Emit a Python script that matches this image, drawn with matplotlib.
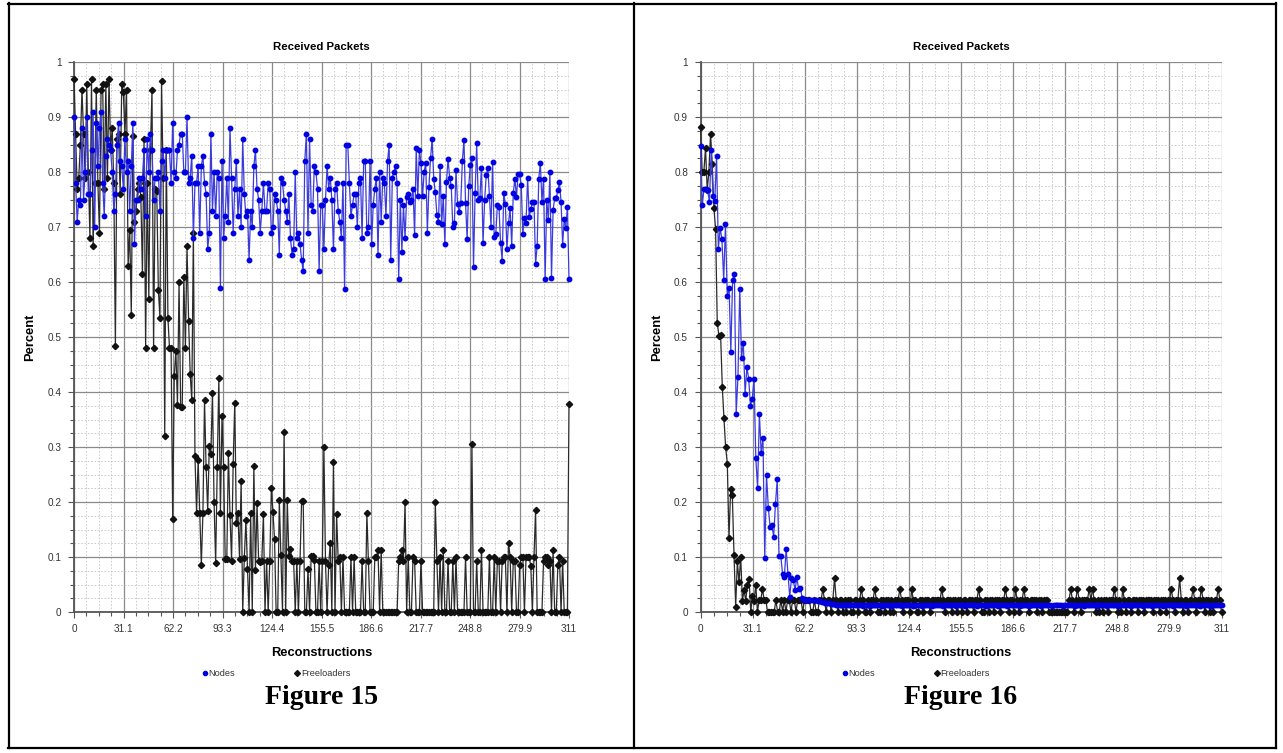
import matplotlib
matplotlib.use('Agg')
import matplotlib.pyplot as plt
import numpy as np
from matplotlib.lines import Line2D
from matplotlib.ticker import FixedLocator, MultipleLocator

plt.rcParams['font.family'] = ['Liberation Sans', 'DejaVu Sans']

# ---- data: Figure 15 ----
nodes_fig15 = [
    0.90, 0.78, 0.71, 0.75, 0.74, 0.88, 0.75, 0.80, 0.90, 0.76, 0.76, 0.84, 0.91, 0.70, 0.89, 0.81, 0.88, 0.91, 0.78, 0.72,
    0.83, 0.86, 0.85, 0.84, 0.80, 0.73, 0.76, 0.85, 0.89, 0.82, 0.81, 0.77, 0.86, 0.80, 0.82, 0.73, 0.81, 0.89, 0.67, 0.75,
    0.75, 0.79, 0.77, 0.79, 0.84, 0.72, 0.86, 0.80, 0.87, 0.84, 0.75, 0.79, 0.79, 0.80, 0.73, 0.82, 0.84, 0.79, 0.84, 0.84,
    0.84, 0.78, 0.89, 0.80, 0.79, 0.84, 0.85, 0.87, 0.87, 0.80, 0.80, 0.90, 0.78, 0.79, 0.83, 0.68, 0.78, 0.78, 0.81, 0.69,
    0.81, 0.83, 0.78, 0.76, 0.66, 0.69, 0.87, 0.73, 0.80, 0.72, 0.80, 0.79, 0.59, 0.82, 0.68, 0.72, 0.79, 0.71, 0.88, 0.79,
    0.69, 0.77, 0.82, 0.72, 0.77, 0.70, 0.86, 0.76, 0.72, 0.73, 0.64, 0.73, 0.70, 0.81, 0.84, 0.77, 0.75, 0.69, 0.73, 0.78,
    0.73, 0.73, 0.78, 0.77, 0.69, 0.70, 0.76, 0.75, 0.73, 0.65, 0.79, 0.78, 0.75, 0.73, 0.71, 0.76, 0.68, 0.65, 0.66, 0.80,
    0.68, 0.69, 0.67, 0.64, 0.62, 0.82, 0.87, 0.69, 0.86, 0.74, 0.73, 0.81, 0.80, 0.77, 0.62,
    0.74, 0.74, 0.66, 0.75, 0.81, 0.77, 0.79, 0.75, 0.66, 0.77,
    0.78, 0.73, 0.71, 0.68, 0.78, 0.587, 0.85, 0.85, 0.78, 0.72,
    0.74, 0.76, 0.76, 0.70, 0.78, 0.79, 0.68, 0.82, 0.82, 0.69,
    0.70, 0.82, 0.67, 0.74, 0.77, 0.79, 0.65, 0.80, 0.71, 0.79,
    0.78, 0.72, 0.82, 0.85, 0.64, 0.79, 0.80, 0.81, 0.78, 0.605,
    0.75, 0.655, 0.74, 0.68, 0.755, 0.76, 0.745, 0.75, 0.77, 0.685,
    0.843, 0.756, 0.84, 0.816, 0.756, 0.80, 0.817, 0.69, 0.773, 0.825,
    0.86, 0.788, 0.763, 0.722, 0.71, 0.81, 0.705, 0.756, 0.67, 0.781,
    0.824, 0.79, 0.775, 0.70, 0.708, 0.803, 0.741, 0.728, 0.743, 0.82,
    0.858, 0.744, 0.678, 0.774, 0.813, 0.826, 0.627, 0.761, 0.852, 0.749,
    0.753, 0.808, 0.671, 0.749, 0.794, 0.808, 0.757, 0.70, 0.818, 0.682,
    0.687, 0.74, 0.737, 0.671, 0.639, 0.761, 0.742, 0.66, 0.707, 0.734,
    0.666, 0.762, 0.788, 0.754, 0.797, 0.796, 0.776, 0.688, 0.716, 0.707,
    0.79, 0.718, 0.732, 0.746, 0.746, 0.632, 0.666, 0.788, 0.816, 0.746,
    0.788, 0.605, 0.749, 0.713, 0.80, 0.607, 0.731, 0.752, 0.753, 0.767,
    0.781, 0.746, 0.668, 0.714, 0.698, 0.737, 0.605,
]

freeloaders_fig15 = [
    0.97, 0.87, 0.77, 0.79, 0.85, 0.95, 0.87, 0.79, 0.96, 0.80,
    0.68, 0.97, 0.665, 0.78, 0.95, 0.78, 0.69, 0.95, 0.96, 0.77,
    0.96, 0.79, 0.97, 0.84, 0.88, 0.78, 0.484, 0.86, 0.87, 0.76,
    0.96, 0.945, 0.87, 0.95, 0.63, 0.695, 0.54, 0.865, 0.71, 0.73,
    0.77, 0.78, 0.755, 0.615, 0.86, 0.48, 0.78, 0.57, 0.84, 0.95,
    0.48, 0.77, 0.765, 0.585, 0.535, 0.965, 0.79, 0.32, 0.84, 0.535,
    0.48, 0.48, 0.17, 0.43, 0.475, 0.377, 0.60, 0.373, 0.373, 0.61,
    0.48, 0.665, 0.53, 0.432, 0.385, 0.69, 0.283, 0.18, 0.277, 0.18,
    0.086, 0.18, 0.385, 0.263, 0.184, 0.302, 0.288, 0.398, 0.20, 0.089,
    0.264, 0.426, 0.18, 0.357, 0.264, 0.096, 0.096, 0.29, 0.176, 0.093,
    0.27, 0.38, 0.162, 0.18, 0.096, 0.238, 0.0, 0.098, 0.167, 0.079,
    0.0, 0.18, 0.0, 0.266, 0.076, 0.198, 0.093, 0.091, 0.093, 0.178,
    0.0, 0.093, 0.0, 0.093, 0.225, 0.182, 0.132, 0.0, 0.0, 0.203,
    0.103, 0.0, 0.328, 0.0, 0.203, 0.102, 0.114, 0.093, 0.093, 0.0,
    0.093, 0.0, 0.093, 0.202, 0.202, 0.0, 0.0, 0.079, 0.0, 0.102,
    0.102, 0.095, 0.0, 0.0, 0.093, 0.0, 0.093, 0.30, 0.093, 0.0,
    0.085, 0.126, 0.0, 0.272, 0.0, 0.178, 0.093, 0.10, 0.0, 0.10,
    0.0, 0.0, 0.0, 0.0, 0.10, 0.0, 0.10, 0.0, 0.0, 0.0,
    0.0, 0.093, 0.0, 0.0, 0.18, 0.093, 0.0, 0.0, 0.0, 0.10,
    0.10, 0.113, 0.0, 0.113, 0.0, 0.0, 0.0, 0.0, 0.0, 0.0,
    0.0, 0.0, 0.0, 0.0, 0.093, 0.10, 0.113, 0.093, 0.20, 0.0,
    0.10, 0.0, 0.0, 0.10, 0.093, 0.0, 0.0, 0.0, 0.093, 0.0,
    0.0, 0.0, 0.0, 0.0, 0.0, 0.0, 0.0, 0.20, 0.093, 0.0,
    0.10, 0.0, 0.113, 0.0, 0.0, 0.093, 0.0, 0.0, 0.093, 0.0,
    0.10, 0.0, 0.0, 0.0, 0.0, 0.0, 0.10, 0.0, 0.0, 0.0,
    0.305, 0.0, 0.0, 0.093, 0.0, 0.0, 0.113, 0.0, 0.0, 0.0,
    0.0, 0.10, 0.0, 0.0, 0.10, 0.0, 0.093, 0.093, 0.0, 0.093,
    0.10, 0.10, 0.0, 0.126, 0.10, 0.0, 0.093, 0.093, 0.0, 0.0,
    0.085, 0.10, 0.10, 0.0, 0.10, 0.10, 0.10, 0.083, 0.0, 0.10,
    0.185, 0.0, 0.0, 0.0, 0.0, 0.093, 0.10, 0.10, 0.085, 0.093,
    0.0, 0.113, 0.0, 0.0, 0.085, 0.10, 0.0, 0.093, 0.0, 0.0,
    0.0, 0.378,
]

# ---- data: Figure 16 ----
nodes_fig16 = [
    0.847, 0.74, 0.77, 0.77, 0.767, 0.745, 0.84, 0.756, 0.747, 0.83,
    0.66, 0.698, 0.678, 0.604, 0.705, 0.575, 0.59, 0.473, 0.604, 0.615,
    0.36, 0.428, 0.587, 0.462, 0.49, 0.397, 0.445, 0.424, 0.375, 0.388,
    0.424, 0.28, 0.225, 0.36, 0.29, 0.316, 0.098, 0.25, 0.19, 0.155,
    0.158, 0.137, 0.196, 0.241, 0.102, 0.102, 0.069, 0.064, 0.115, 0.07,
    0.028, 0.061, 0.058, 0.04, 0.063, 0.041, 0.044, 0.025, 0.022,
    0.021, 0.022, 0.022, 0.021, 0.022, 0.022, 0.021, 0.020, 0.020, 0.019, 0.018,
    0.017, 0.016, 0.016, 0.015, 0.014, 0.014, 0.013, 0.013, 0.013, 0.012,
    0.012, 0.012, 0.012, 0.012, 0.012, 0.012, 0.012, 0.012, 0.012, 0.012,
    0.012, 0.011, 0.012, 0.012, 0.012, 0.011, 0.012, 0.012, 0.012, 0.012,
    0.012, 0.012, 0.011, 0.012, 0.012, 0.012, 0.012, 0.011, 0.012, 0.012,
    0.012, 0.012, 0.012, 0.011, 0.012, 0.012, 0.012, 0.012, 0.012, 0.011,
    0.012, 0.012, 0.012, 0.012, 0.011, 0.012, 0.012, 0.012, 0.012, 0.012,
    0.011, 0.012, 0.012, 0.012, 0.012, 0.012, 0.011, 0.012, 0.012, 0.012,
    0.012, 0.012, 0.012, 0.011, 0.012, 0.012, 0.012, 0.012, 0.011, 0.012,
    0.012, 0.012, 0.012, 0.012, 0.012, 0.011, 0.012, 0.012, 0.012, 0.012,
    0.011, 0.012, 0.012, 0.012, 0.012, 0.012, 0.012, 0.011, 0.012, 0.012,
    0.012, 0.012, 0.011, 0.012, 0.012, 0.012, 0.012, 0.012, 0.012, 0.011,
    0.012, 0.012, 0.012, 0.012, 0.011, 0.012, 0.012, 0.012, 0.012, 0.012,
    0.012, 0.011, 0.012, 0.012, 0.012, 0.012, 0.012, 0.011, 0.012, 0.012,
    0.012, 0.012, 0.012, 0.011, 0.012, 0.012, 0.012, 0.012, 0.012, 0.012,
    0.011, 0.012, 0.012, 0.012, 0.012, 0.011, 0.012, 0.012, 0.012, 0.012,
    0.012, 0.012, 0.011, 0.012, 0.012, 0.012, 0.012, 0.012, 0.011, 0.012,
    0.012, 0.012, 0.012, 0.012, 0.011, 0.012, 0.012, 0.012, 0.012, 0.012,
    0.012, 0.011, 0.012, 0.012, 0.012, 0.012, 0.012, 0.012, 0.011, 0.012,
    0.012, 0.012, 0.012, 0.011, 0.012, 0.012, 0.012, 0.012, 0.012, 0.011,
    0.012, 0.012, 0.012, 0.012, 0.012, 0.011, 0.012, 0.012, 0.012, 0.012,
    0.012, 0.012, 0.011, 0.012, 0.012, 0.012, 0.012, 0.012, 0.012, 0.012,
    0.011, 0.012, 0.012, 0.012, 0.012, 0.012, 0.011, 0.012, 0.012, 0.012,
    0.012, 0.012, 0.012,
]

freeloaders_fig16 = [
    0.882, 0.80, 0.80, 0.844, 0.767, 0.80, 0.87, 0.815, 0.735, 0.697,
    0.526, 0.502, 0.504, 0.41, 0.352, 0.30, 0.27, 0.134, 0.224, 0.212,
    0.104, 0.01, 0.092, 0.054, 0.10, 0.02, 0.04, 0.02, 0.05, 0.06,
    0.0, 0.03, 0.02, 0.05, 0.0, 0.022, 0.022, 0.042, 0.022, 0.022,
    0.0, 0.0, 0.0, 0.0, 0.0,
    0.022, 0.0, 0.0, 0.022, 0.0, 0.022, 0.0, 0.022, 0.022, 0.0,
    0.022, 0.022, 0.0, 0.022, 0.022, 0.022, 0.0, 0.022, 0.022, 0.022,
    0.022, 0.0, 0.0, 0.022, 0.0, 0.0, 0.022, 0.022, 0.042, 0.022,
    0.0, 0.022, 0.022, 0.0, 0.022, 0.062, 0.022, 0.0, 0.022, 0.022,
    0.0, 0.022, 0.0, 0.022, 0.022, 0.0, 0.0, 0.022, 0.022, 0.0,
    0.022, 0.042, 0.022, 0.0, 0.0,
    0.022, 0.0, 0.022, 0.022, 0.042, 0.022, 0.0, 0.0, 0.022, 0.022,
    0.0, 0.022, 0.022, 0.0, 0.022, 0.0, 0.022, 0.022, 0.022, 0.042,
    0.022, 0.0, 0.022, 0.022, 0.022, 0.0, 0.042, 0.022, 0.022, 0.0,
    0.0, 0.022, 0.022, 0.0, 0.022, 0.022, 0.022, 0.0, 0.022, 0.022,
    0.022, 0.022, 0.022, 0.022, 0.042, 0.022, 0.0, 0.022, 0.022, 0.022,
    0.0, 0.022, 0.022, 0.0, 0.022, 0.022, 0.0, 0.022, 0.022, 0.0,
    0.022, 0.022, 0.022, 0.0, 0.022, 0.022, 0.042, 0.022, 0.0, 0.0,
    0.022, 0.022, 0.0, 0.022, 0.022, 0.0, 0.022, 0.022, 0.022, 0.0,
    0.022, 0.022, 0.042, 0.022, 0.0, 0.022, 0.022, 0.0, 0.042, 0.022,
    0.0, 0.022, 0.022, 0.042, 0.022, 0.022, 0.0, 0.022, 0.022, 0.022,
    0.022, 0.0, 0.022, 0.022, 0.0, 0.022, 0.022, 0.022, 0.0, 0.0,
    0.0, 0.0, 0.0, 0.0, 0.0, 0.0, 0.0, 0.0, 0.0, 0.0,
    0.022, 0.042, 0.022, 0.0, 0.022, 0.042, 0.022, 0.0, 0.022, 0.022,
    0.022, 0.022, 0.042, 0.022, 0.042, 0.022, 0.0, 0.022, 0.0, 0.022,
    0.0, 0.022, 0.022, 0.0, 0.022, 0.022, 0.022, 0.042, 0.022, 0.0,
    0.022, 0.0, 0.042, 0.022, 0.0, 0.022, 0.022, 0.0, 0.022, 0.022,
    0.022, 0.0, 0.022, 0.022, 0.022, 0.0, 0.022, 0.022, 0.022, 0.022,
    0.0, 0.022, 0.022, 0.022, 0.0, 0.022, 0.022, 0.022, 0.0, 0.022,
    0.022, 0.042, 0.022, 0.0, 0.022, 0.022, 0.062, 0.022, 0.0, 0.022,
    0.022, 0.0, 0.022, 0.022, 0.042, 0.022, 0.0, 0.022, 0.022, 0.042,
    0.022, 0.0, 0.022, 0.022, 0.0, 0.022, 0.0, 0.022, 0.022, 0.042,
    0.022, 0.0,
]

x_max = 311
x_ticks = [0, 31.1, 62.2, 93.3, 124.4, 155.5, 186.6, 217.7, 248.8, 279.9, 311]
x_tick_labels = ['0', '31.1', '62.2', '93.3', '124.4', '155.5', '186.6', '217.7', '248.8', '279.9', '311']
y_ticks = [0, 0.1, 0.2, 0.3, 0.4, 0.5, 0.6, 0.7, 0.8, 0.9, 1.0]
y_tick_labels = ['0', '0.1', '0.2', '0.3', '0.4', '0.5', '0.6', '0.7', '0.8', '0.9', '1']

W, H = 1283, 753
fig = plt.figure(figsize=(W / 100, H / 100), dpi=100)
fig.patch.set_facecolor('white')


def fx(px):
    return px / W


def fy(py):
    return 1 - py / H


def draw_panel(left, right, nodes, freeloaders, caption):
    ax = fig.add_axes([fx(left), fy(612), fx(right - left), (612 - 62) / H])
    xs_n = np.linspace(0, x_max, len(nodes))
    xs_f = np.linspace(0, x_max, len(freeloaders))

    ax.plot(xs_f, freeloaders, color='#2a2a2a', lw=0.9, marker='D', ms=3.2,
            mfc='#111111', mec='#111111', clip_on=False, zorder=3)
    ax.plot(xs_n, nodes, color='#3b3bdd', lw=0.9, marker='o', ms=3.2,
            mfc='#0000e0', mec='#0000e0', clip_on=False, zorder=4)

    ax.set_xlim(0, x_max)
    ax.set_ylim(0, 1)
    ax.xaxis.set_major_locator(FixedLocator(x_ticks))
    ax.set_xticklabels(x_tick_labels)
    ax.xaxis.set_minor_locator(MultipleLocator(31.1 / 4))
    ax.yaxis.set_major_locator(FixedLocator(y_ticks))
    ax.set_yticklabels(y_tick_labels)
    ax.yaxis.set_minor_locator(MultipleLocator(0.025))

    ax.grid(which='major', color='#8a8a8a', lw=0.9, ls='-', zorder=0)
    ax.grid(which='minor', color='#c4c4c4', lw=0.6, ls=(0, (2, 2)), zorder=0)
    ax.set_axisbelow(True)

    for side in ['top', 'right']:
        ax.spines[side].set_visible(False)
    for side in ['left', 'bottom']:
        ax.spines[side].set_color('#555555')
        ax.spines[side].set_linewidth(1.3)

    ax.tick_params(which='both', direction='out', color='#555555',
                   labelsize=7.2, labelcolor='#333333')
    ax.tick_params(which='major', length=4, width=0.8, pad=5)
    ax.tick_params(which='minor', length=3, width=0.8)

    ax.set_title('Received Packets', fontsize=8.2, fontweight='bold', pad=9)
    ax.set_xlabel('Reconstructions', fontsize=9.3, fontweight='bold', labelpad=9)
    ax.set_ylabel('Percent', fontsize=9.3, fontweight='bold', labelpad=8)

    handles = [
        Line2D([], [], ls='none', marker='o', ms=3, color='#0000e0', label='Nodes'),
        Line2D([], [], ls='none', marker='D', ms=3, color='#111111', label='Freeloaders'),
    ]
    leg_center = (left + right) / 2 - 45
    ax.legend(handles=handles, loc='center', ncol=2, frameon=False,
              bbox_to_anchor=(fx(leg_center), fy(674)), bbox_transform=fig.transFigure,
              fontsize=6.6, handlelength=0.5, handletextpad=0.15, columnspacing=6.5,
              labelcolor='#333333')

    fig.text(fx((left + right) / 2), fy(697), caption, ha='center', va='center',
             family='Liberation Serif', fontweight='bold', fontsize=20)
    return ax


draw_panel(74, 569, nodes_fig15, freeloaders_fig15, 'Figure 15')
draw_panel(700.5, 1221.5, nodes_fig16, freeloaders_fig16, 'Figure 16')

# table borders around the two panels
border_kw = dict(color='black', lw=1.6, transform=fig.transFigure)
fig.add_artist(Line2D([fx(8), fx(1276)], [fy(3.5), fy(3.5)], **border_kw))
fig.add_artist(Line2D([fx(8), fx(1276)], [fy(748), fy(748)], **border_kw))
fig.add_artist(Line2D([fx(8.5), fx(8.5)], [fy(3), fy(748)], **border_kw))
fig.add_artist(Line2D([fx(1275.5), fx(1275.5)], [fy(3), fy(748)], **border_kw))
fig.add_artist(Line2D([fx(634), fx(634)], [fy(3), fy(748)], **border_kw))

fig.savefig('out.png', dpi=100, facecolor='white')
